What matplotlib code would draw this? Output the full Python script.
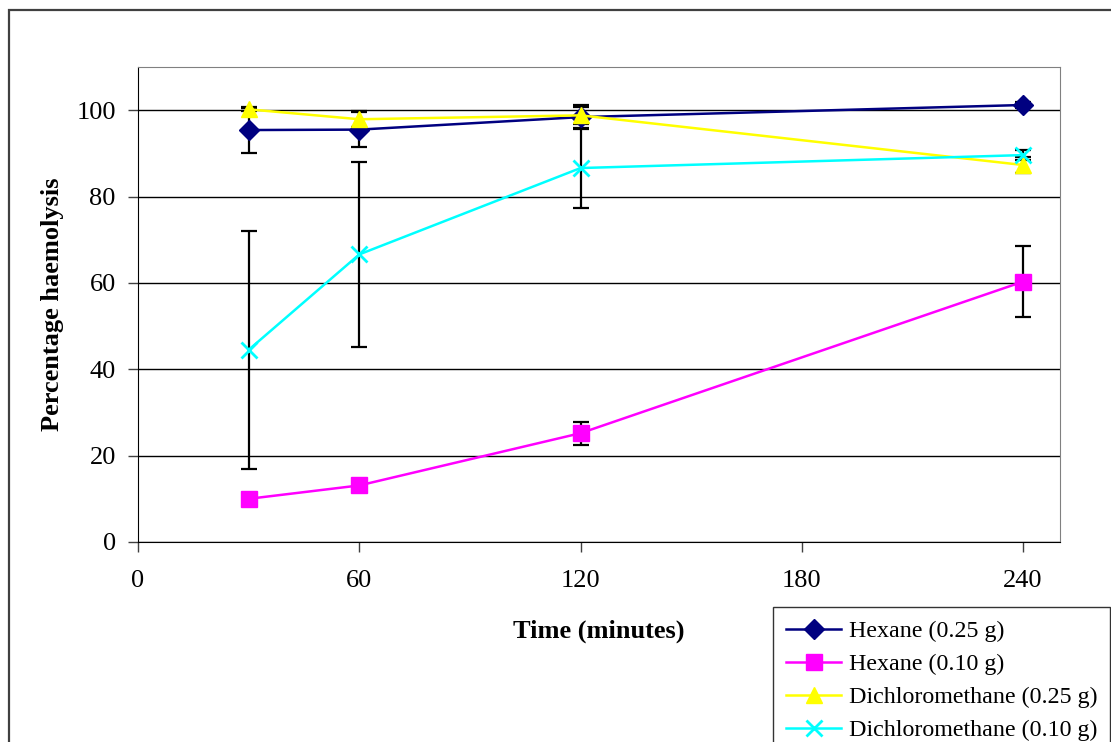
import matplotlib
matplotlib.use("Agg")
import matplotlib.pyplot as plt
from matplotlib.patches import Rectangle

plt.rcParams['font.family'] = ['Liberation Serif', 'DejaVu Serif']

# time points (minutes)
times = [30, 60, 120, 240]

# series values
hex25 = [95.4, 95.5, 98.4, 101.2]
hex25_err = [5.2, 4.1, 2.7, 0.8]
hex10 = [10.0, 13.1, 25.2, 60.3]
hex10_err = [0.5, 0.5, 2.7, 8.2]
dcm25 = [100.2, 97.9, 98.8, 87.3]
dcm25_err = [0.5, 1.8, 2.0, 1.8]
dcm10 = [44.5, 66.6, 86.6, 89.6]
dcm10_err = [27.5, 21.5, 9.2, 1.2]

labels = ["Hexane (0.25 g)", "Hexane (0.10 g)",
          "Dichloromethane (0.25 g)", "Dichloromethane (0.10 g)"]

fig = plt.figure(figsize=(11.11, 7.42), dpi=100)
ax = fig.add_axes([138/1111, 1-542/742, (1060-138)/1111, (542-67)/742])

# outer chart border
fig.add_artist(Rectangle((9/1111, -0.2), 1.2, 1.2 - 10/742 , transform=fig.transFigure,
                         fill=False, edgecolor='#404040', linewidth=1.6))

# error bars first, so markers sit on top
for ys, es in [(hex25, hex25_err), (hex10, hex10_err), (dcm25, dcm25_err), (dcm10, dcm10_err)]:
    ax.errorbar(times, ys, yerr=es, fmt='none', ecolor='black', elinewidth=1.6,
                capsize=5.8, capthick=1.6, zorder=2)

ax.plot(times, hex25, color='#000080', marker='D', markersize=10, linewidth=1.8,
        label=labels[0], zorder=3)
ax.plot(times, hex10, color='#FF00FF', marker='s', markersize=11, linewidth=1.8,
        label=labels[1], zorder=3)
ax.plot(times, dcm25, color='#FFFF00', marker='^', markersize=12, linewidth=1.8,
        label=labels[2], zorder=3)
ax.plot(times, dcm10, color='#00FFFF', marker='x', markersize=11, markeredgewidth=2,
        linewidth=1.8, label=labels[3], zorder=4)

ax.set_xlim(0, 250)
ax.set_ylim(0, 110)
ax.set_xticks([0, 60, 120, 180, 240])
ax.set_yticks([0, 20, 40, 60, 80, 100])
ax.yaxis.grid(True, color='black', linewidth=1)
ax.set_axisbelow(True)

ax.tick_params(axis='both', direction='out', length=7, width=1, labelsize=19, color='#404040')
ax.tick_params(axis='x', pad=13)
ax.tick_params(axis='y', pad=9)

for s in ['left', 'bottom']:
    ax.spines[s].set_color('black')
for s in ['top', 'right']:
    ax.spines[s].set_color('#808080')

ax.set_xlabel("Time (minutes)", fontsize=19, fontweight='bold', labelpad=20)
ax.set_ylabel("Percentage haemolysis", fontsize=19, fontweight='bold', labelpad=9)

leg = fig.legend(loc='upper left', bbox_to_anchor=(773/1111, 1-607/742), fontsize=17.3,
                 frameon=True, fancybox=False, edgecolor='black', handlelength=2.3,
                 labelspacing=0.47, borderpad=0.55, handletextpad=0.3,
                 borderaxespad=0)
leg.get_frame().set_linewidth(1)

fig.savefig("out.png", dpi=100)
